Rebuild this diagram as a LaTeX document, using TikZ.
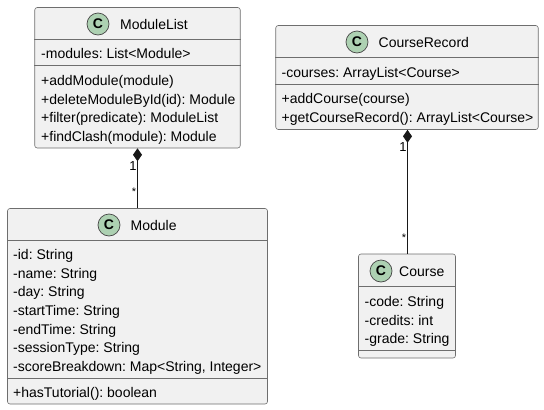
\documentclass[tikz,border=0pt]{standalone}
\usepackage{fontspec}
\setmainfont{Liberation Sans}
\usetikzlibrary{arrows.meta}
\definecolor{boxfill}{HTML}{F1F1F1}
\definecolor{boxline}{HTML}{6E6E6E}
\definecolor{linkline}{HTML}{181818}
\definecolor{spotfill}{HTML}{ADD1B2}
\frenchspacing
\tikzset{
    classbox/.style={draw=boxline, fill=boxfill, line width=0.6pt, rounded corners=2.5pt, inner sep=0pt},
    sepline/.style={draw=boxline, line width=0.6pt},
    spot/.style={circle, draw=linkline!80, fill=spotfill, line width=0.7pt, minimum size=22pt, inner sep=0pt, font=\fontsize{14}{14}\selectfont\bfseries},
    classname/.style={anchor=base west, inner sep=0pt, text=black, font=\fontsize{14}{14}\selectfont},
    member/.style={anchor=base west, inner sep=0pt, text=black, font=\fontsize{14}{14}\selectfont},
    mult/.style={inner sep=0pt, text=black, font=\fontsize{13}{13}\selectfont},
    manymult/.style={inner sep=0pt, text=black, font=\fontsize{11}{11}\selectfont},
    compose/.style={{Diamond[length=13pt,width=9pt]}-, draw=linkline, line width=1.1pt}
}
\begin{document}
\begin{tikzpicture}[x=1pt,y=-1pt]
    \useasboundingbox (0,0) rectangle (544,410);
    % ModuleList
    \node[classbox, minimum width=205.5pt, minimum height=140.5pt] (moduleList) at (137.5,77.75) {};
    \draw[sepline] (moduleList.west |- 0,39.5) -- (moduleList.east |- 0,39.5);
    \draw[sepline] (moduleList.west |- 0,65.5) -- (moduleList.east |- 0,65.5);
    \node[spot] (moduleListSpot) at (98,24) {C};
    \node[classname] (moduleListName) at (120,29) {ModuleList};
    \node[member] (modulesAttr) at (41,58) {-modules: List<Module>};
    \node[member] (addModuleOp) at (41,85) {+addModule(module)};
    \node[member] (deleteOp) at (41,104) {+deleteModuleById(id): Module};
    \node[member] (filterOp) at (41,122.5) {+filter(predicate): ModuleList};
    \node[member] (findClashOp) at (41,141) {+findClash(module): Module};
    % Module
    \node[classbox, minimum width=260pt, minimum height=195.5pt] (module) at (137.5,306.25) {};
    \draw[sepline] (module.west |- 0,240.5) -- (module.east |- 0,240.5);
    \draw[sepline] (module.west |- 0,378) -- (module.east |- 0,378);
    \node[spot] (moduleSpot) at (109,225) {C};
    \node[classname] (moduleName) at (130.5,230) {Module};
    \node[member] (idAttr) at (13,259) {-id: String};
    \node[member] (nameAttr) at (13,278) {-name: String};
    \node[member] (dayAttr) at (13,296) {-day: String};
    \node[member] (startAttr) at (13,315) {-startTime: String};
    \node[member] (endAttr) at (13,334) {-endTime: String};
    \node[member] (sessionAttr) at (13,352) {-sessionType: String};
    \node[member] (scoreAttr) at (13,371) {-scoreBreakdown: Map<String, Integer>};
    \node[member] (tutorialOp) at (13,397) {+hasTutorial(): boolean};
    % CourseRecord
    \node[classbox, minimum width=262.5pt, minimum height=104pt] (courseRecord) at (407,77.5) {};
    \draw[sepline] (courseRecord.west |- 0,57.5) -- (courseRecord.east |- 0,57.5);
    \draw[sepline] (courseRecord.west |- 0,84.5) -- (courseRecord.east |- 0,84.5);
    \node[spot] (courseRecordSpot) at (357,42) {C};
    \node[classname] (courseRecordName) at (378.5,47) {CourseRecord};
    \node[member] (coursesAttr) at (281.5,77) {-courses: ArrayList<Course>};
    \node[member] (addCourseOp) at (281.5,103) {+addCourse(course)};
    \node[member] (getRecordOp) at (281.5,122) {+getCourseRecord(): ArrayList<Course>};
    % Course
    \node[classbox, minimum width=97pt, minimum height=104pt] (course) at (407,306) {};
    \draw[sepline] (course.west |- 0,286.5) -- (course.east |- 0,286.5);
    \draw[sepline] (course.west |- 0,350.5) -- (course.east |- 0,350.5);
    \node[spot] (courseSpot) at (381,271) {C};
    \node[classname] (courseName) at (399,276) {Course};
    \node[member] (codeAttr) at (364.5,306) {-code: String};
    \node[member] (creditsAttr) at (364.5,325) {-credits: int};
    \node[member] (gradeAttr) at (364.5,343) {-grade: String};
    % compositions
    \draw[compose] (moduleList.south) -- (module.north);
    \node[mult] (moduleListOne) at (133,166) {1};
    \node[manymult] (moduleMany) at (134,191.5) {*};
    \draw[compose] ([xshift=0.5pt]courseRecord.south) -- ([xshift=0.5pt]course.north);
    \node[mult] (courseRecordOne) at (403,147.5) {1};
    \node[manymult] (courseMany) at (404,237.5) {*};
\end{tikzpicture}
\end{document}
